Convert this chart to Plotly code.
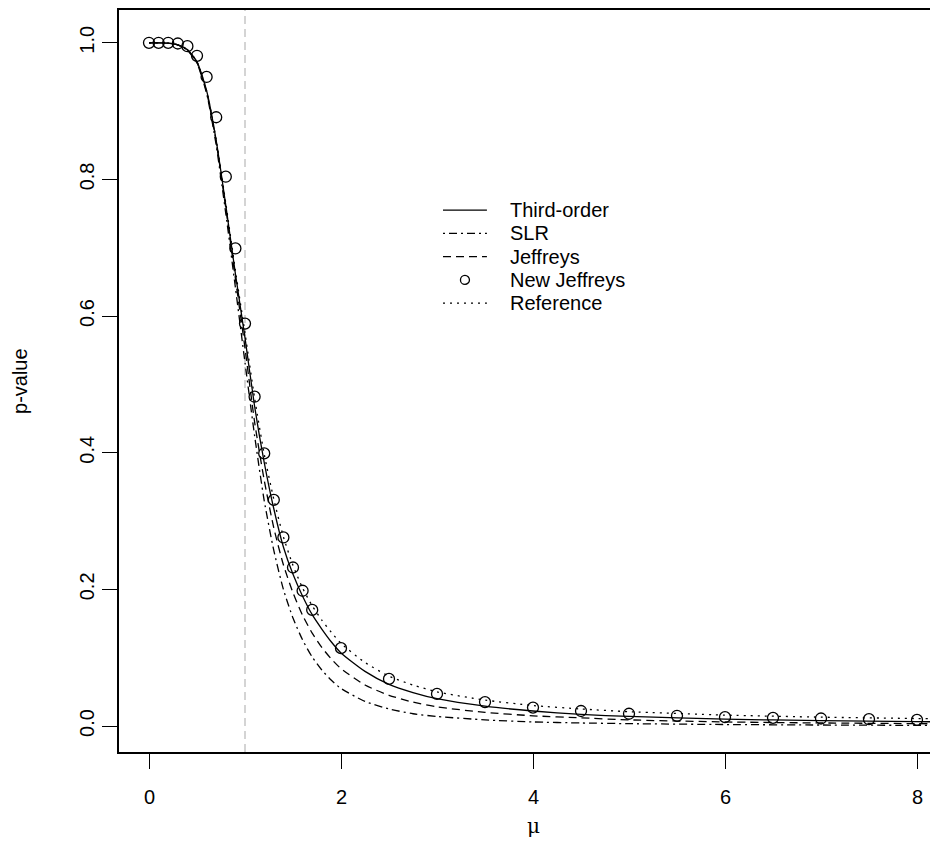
import plotly.graph_objects as go

mu = [0, 0.1, 0.2, 0.3, 0.4, 0.5, 0.6, 0.7, 0.8, 0.9, 1.0, 1.1, 1.2, 1.3, 1.4, 1.5, 1.6, 1.7,
      1.8, 1.9, 2.0, 2.25, 2.5, 2.75, 3.0, 3.5, 4.0, 4.5, 5.0, 6.0, 7.0, 8.0, 8.3]

third_order = [1.0, 1.0, 0.9995, 0.997, 0.990, 0.972, 0.930, 0.857, 0.762, 0.662, 0.568, 0.468,
               0.386, 0.318, 0.262, 0.222, 0.190, 0.163, 0.142, 0.123, 0.107, 0.080, 0.061,
               0.049, 0.040, 0.029, 0.022, 0.017, 0.014, 0.010, 0.008, 0.0065, 0.006]
slr = [1.0, 1.0, 0.9995, 0.997, 0.989, 0.970, 0.926, 0.850, 0.750, 0.642, 0.532, 0.425,
       0.330, 0.257, 0.200, 0.158, 0.126, 0.101, 0.082, 0.067, 0.055, 0.036, 0.025,
       0.018, 0.014, 0.009, 0.006, 0.0045, 0.0035, 0.0022, 0.0015, 0.001, 0.001]
jeffreys = [1.0, 1.0, 0.9995, 0.997, 0.990, 0.971, 0.928, 0.855, 0.758, 0.655, 0.553, 0.445,
            0.360, 0.290, 0.236, 0.195, 0.162, 0.136, 0.115, 0.098, 0.084, 0.060, 0.045,
            0.035, 0.028, 0.020, 0.015, 0.012, 0.009, 0.006, 0.0045, 0.0035, 0.003]
reference = [1.0, 1.0, 0.9995, 0.997, 0.990, 0.972, 0.930, 0.858, 0.765, 0.667, 0.575, 0.480,
             0.398, 0.332, 0.277, 0.235, 0.202, 0.176, 0.155, 0.137, 0.121, 0.093, 0.073,
             0.060, 0.050, 0.038, 0.030, 0.025, 0.021, 0.016, 0.013, 0.011, 0.0105]

# New Jeffreys points
mu_pts = [0, 0.1, 0.2, 0.3, 0.4, 0.5, 0.6, 0.7, 0.8, 0.9, 1.0, 1.1, 1.2, 1.3, 1.4, 1.5, 1.6, 1.7,
          2.0, 2.5, 3.0, 3.5, 4.0, 4.5, 5.0, 5.5, 6.0, 6.5, 7.0, 7.5, 8.0]
new_jeffreys = [1.0, 1.0, 1.0, 0.999, 0.995, 0.981, 0.950, 0.891, 0.804, 0.699, 0.589, 0.482,
                0.399, 0.331, 0.276, 0.232, 0.198, 0.170, 0.114, 0.069, 0.047, 0.035, 0.027,
                0.022, 0.018, 0.015, 0.013, 0.012, 0.011, 0.010, 0.009]

x_tick = [0, 2, 4, 6, 8]
y_tick = [0.0, 0.2, 0.4, 0.6, 0.8, 1.0]
legend_names = ["Third-order", "SLR", "Jeffreys", "New Jeffreys", "Reference"]

lw = 1.3
fs = 20
styles = {
    "Third-order": "solid",
    "SLR": "2px,4px,8px,4px",
    "Jeffreys": "8px,5px",
    "Reference": "2px,5px",
}

fig = go.Figure()
for name, ys in [("Third-order", third_order), ("SLR", slr), ("Jeffreys", jeffreys),
                 ("Reference", reference)]:
    fig.add_trace(go.Scatter(x=mu, y=ys, mode="lines", name=name,
                             line=dict(color="black", width=lw, dash=styles[name],
                                       shape="spline", smoothing=0.6)))

fig.add_trace(go.Scatter(x=mu_pts, y=new_jeffreys, mode="markers", name="New Jeffreys",
                         marker=dict(symbol="circle-open", size=11, color="black",
                                     line=dict(width=lw))))

# vertical reference line at mu = 1
fig.add_shape(type="line", xref="x", yref="paper", x0=1, x1=1, y0=0, y1=1,
              line=dict(color="#bebebe", width=1.3, dash="8px,5px"), layer="below")

# hand-built legend in the style of R's legend()
leg_x0, leg_x1, leg_txt = 3.0625, 3.52, 3.74
leg_y = [0.755, 0.721, 0.687, 0.653, 0.619]
for name, yy in zip(legend_names, leg_y):
    if name == "New Jeffreys":
        fig.add_shape(type="circle", xref="x", yref="y", xsizemode="pixel", ysizemode="pixel",
                      xanchor=(leg_x0 + leg_x1) / 2, yanchor=yy, x0=-4.5, x1=4.5, y0=-4.5, y1=4.5,
                      line=dict(color="black", width=lw))
    else:
        fig.add_shape(type="line", xref="x", yref="y", x0=leg_x0, x1=leg_x1, y0=yy, y1=yy,
                      line=dict(color="black", width=lw, dash=styles[name]))
    fig.add_annotation(x=leg_txt, y=yy, xref="x", yref="y", text=name, showarrow=False,
                       xanchor="left", yanchor="middle", font=dict(size=fs, color="black"))

# x tick labels sit lower than plotly puts them (R's mgp), so they are placed by hand
for t in x_tick:
    fig.add_annotation(x=t, y=-0.0606, xref="x", yref="paper", text=str(t), showarrow=False,
                       xanchor="center", yanchor="middle", font=dict(size=fs, color="black"))

fig.add_annotation(x=-0.1221, y=0.5, xref="paper", yref="paper", text="p-value",
                   textangle=-90, showarrow=False, xanchor="center", yanchor="middle",
                   font=dict(size=fs, color="black"))
fig.add_annotation(x=4, y=-0.0997, xref="x", yref="paper", text="μ", showarrow=False,
                   xanchor="center", yanchor="middle",
                   font=dict(size=fs, color="black", family="DejaVu Serif"))

# the page body has an 8px margin, so the figure is kept inside the window
fig.update_layout(
    width=922, height=845,
    margin=dict(l=111, r=0, t=2, b=101),
    paper_bgcolor="white", plot_bgcolor="white",
    showlegend=False,
    font=dict(family="Liberation Sans, Arial, sans-serif", size=fs, color="black"),
)
fig.update_xaxes(range=[-0.3125, 8.1354], tickvals=x_tick, ticks="outside", ticklen=15,
                 tickwidth=1.3, tickcolor="black", showline=True, linecolor="black",
                 linewidth=1.5, mirror=True, showgrid=False, zeroline=False,
                 showticklabels=False)
fig.update_yaxes(range=[-0.038, 1.048], tickvals=y_tick, tickformat=".1f", tickangle=-90,
                 ticks="outside", ticklen=15, tickwidth=1.3, tickcolor="black", showline=True,
                 linecolor="black", linewidth=1.5, mirror=False, showgrid=False,
                 zeroline=False)

fig.write_html("out.html")
